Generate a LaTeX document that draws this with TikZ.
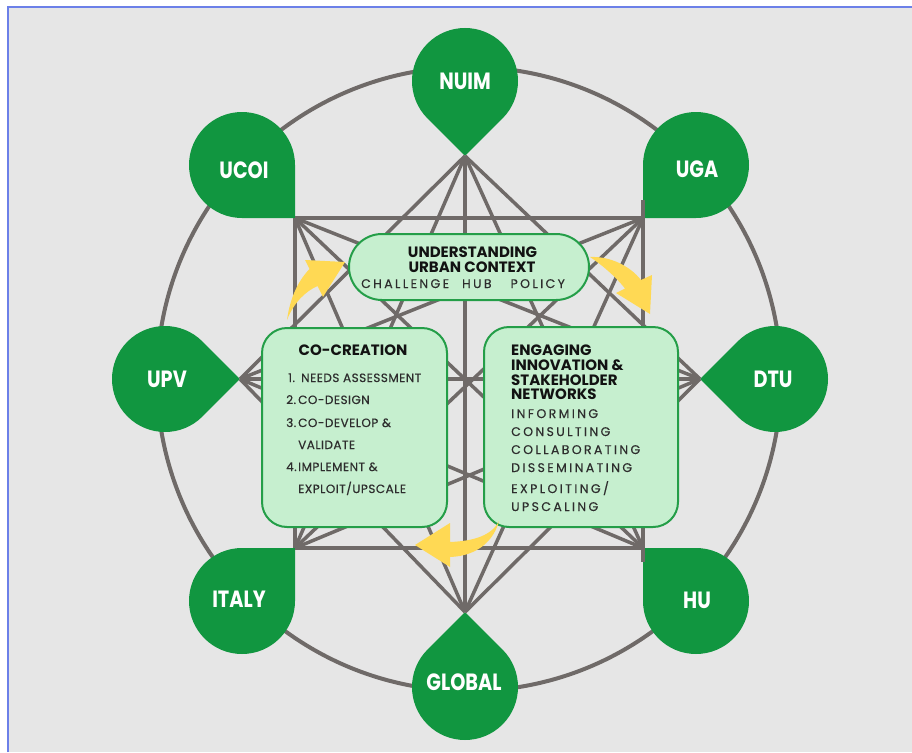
\documentclass[tikz,border=0pt]{standalone}
\usepackage{fontspec}
\setmainfont{Poppins}
\newfontfamily\popspaced[LetterSpace=19,FakeBold=0.3]{Poppins}
\newfontfamily\popitem[LetterSpace=4,FakeBold=0.5]{Poppins}
\usetikzlibrary{calc}
\definecolor{bggrey}{RGB}{230,230,230}
\definecolor{framebl}{RGB}{108,128,232}
\definecolor{lgrey}{RGB}{111,106,104}
\definecolor{dgreen}{RGB}{17,150,64}
\definecolor{boxfill}{RGB}{198,239,207}
\definecolor{boxline}{RGB}{36,158,72}
\definecolor{ayellow}{RGB}{255,217,84}
\definecolor{txtdark}{RGB}{18,18,18}
\definecolor{txtgrey}{RGB}{45,45,45}
\newcommand\mydrop[3]{%
  \fill[dgreen] ($(#1,#2)+(#3+45:53)$) arc[start angle=#3+45, delta angle=270, radius=53] -- ($(#1,#2)+(#3:74.95)$) -- cycle;}
\tikzset{
  net/.style={lgrey, line width=3.5pt},
  dlabel/.style={text=white, inner sep=0pt, font=\fontsize{23.5}{23.5}\selectfont\bfseries},
  greenbox/.style={draw=boxline, fill=boxfill, line width=2pt, inner sep=0pt},
  titletext/.style={text=txtdark, inner sep=0pt, font=\fontsize{15}{15}\selectfont\bfseries},
  itemtext/.style={text=txtgrey, inner sep=0pt, anchor=base west, font=\popitem\fontsize{12}{12}\selectfont},
  spacedtext/.style={text=txtgrey, inner sep=0pt, anchor=base west, font=\popspaced\fontsize{12.5}{12.5}\selectfont},
  arrowfill/.style={fill=ayellow}
}
\begin{document}
\begin{tikzpicture}[x=1pt,y=-1pt]
\useasboundingbox (0,0) rectangle (912,752);
\fill[white] (0,0) rectangle (912,752);
\fill[bggrey] (9,8) rectangle (912,752);
\draw[framebl, line width=2pt] (8,752) -- (8,7) -- (912,7);
% big circle
\draw[lgrey, line width=4pt] (469,379) circle[radius=312];
% drops
\mydrop{465}{81}{90}
\mydrop{465}{687}{-90}
\mydrop{165}{379}{0}
\mydrop{775}{379}{180}
\mydrop{242}{165}{45}
\mydrop{696}{165}{135}
\mydrop{242}{601}{-45}
\mydrop{696}{601}{225}
% network points
\coordinate (N) at (465,156);
\coordinate (S) at (465,612);
\coordinate (W) at (240,379);
\coordinate (E) at (700,379);
\coordinate (TL) at (295,218);
\coordinate (TR) at (643,218);
\coordinate (BL) at (295,548);
\coordinate (BR) at (643,548);
\coordinate (TRx) at (643,200);
\coordinate (BRx) at (643,562);
\foreach \a/\b in {N/W,N/BL,N/S,N/BR,N/E,S/W,S/TL,S/TR,S/E,W/TR,W/E,W/BR,E/TL,E/BL,TL/TR,TL/BR,TL/BL,TR/BL,BL/BR}
  \draw[net] (\a) -- (\b);
\draw[net] (TRx) -- (BRx);
% boxes
\node[greenbox, minimum width=240pt, minimum height=66pt, rounded corners=33pt] (pill) at (469,267) {};
\node[greenbox, minimum width=185pt, minimum height=199pt, rounded corners=25pt] (cocreation) at (354.5,427.5) {};
\node[greenbox, minimum width=194pt, minimum height=200pt, rounded corners=25pt] (engaging) at (581,427) {};
% yellow arrows
\fill[arrowfill] (287,320) .. controls (290,298) and (298,281) .. (309.5,269) -- (305,260) -- (345,262) -- (323,297) -- (317.6,286) .. controls (306,291) and (294,302) .. cycle;
\fill[arrowfill] (590,257) .. controls (610,256) and (630,266) .. (641,280) -- (652,275) -- (650,314) -- (616,293) -- (625,288.5) .. controls (615,276) and (602,265) .. cycle;
\fill[arrowfill] (499,521) .. controls (492,535) and (475,541) .. (450,542) -- (450,523) -- (415,545) -- (450,567) -- (450,557) .. controls (478,556) and (494,540) .. cycle;
% drop labels
\node[dlabel] (nuim) at (465,81) {\scalebox{0.82}[1]{NUIM}};
\node[dlabel] (ucoi) at (244,170) {\scalebox{0.82}[1]{UCOI}};
\node[dlabel] (uga) at (697,169) {\scalebox{0.82}[1]{UGA}};
\node[dlabel] (upv) at (167,379) {\scalebox{0.82}[1]{UPV}};
\node[dlabel] (dtu) at (773,379) {\scalebox{0.82}[1]{DTU}};
\node[dlabel] (italy) at (239,599) {\scalebox{0.82}[1]{ITALY}};
\node[dlabel] (hu) at (697,600) {\scalebox{0.82}[1]{HU}};
\node[dlabel] (global) at (464,682.5) {\scalebox{0.82}[1]{GLOBAL}};
% pill text
\node[titletext, anchor=base] (u1) at (472.5,257) {UNDERSTANDING};
\node[titletext, anchor=base] (u2) at (472,272) {URBAN CONTEXT};
\node[spacedtext] (u3) at (361,288) {CHALLENGE\hspace{13pt}HUB\hspace{19pt}POLICY};
% co-creation text
\node[titletext, anchor=base] (c0) at (353,355) {CO-CREATION};
\node[itemtext] (c1) at (288,382) {\makebox[13pt][l]{1.}NEEDS ASSESSMENT};
\node[itemtext] (c2) at (286,404) {\makebox[12pt][l]{2.}CO-DESIGN};
\node[itemtext] (c3) at (286,427) {\makebox[12pt][l]{3.}CO-DEVELOP \&};
\node[itemtext] (c4) at (298,449) {VALIDATE};
\node[itemtext] (c5) at (286,471) {\makebox[12pt][l]{4.}IMPLEMENT \&};
\node[itemtext] (c6) at (298,493) {EXPLOIT/UPSCALE};
% engaging text
\node[titletext, anchor=base west] (e1) at (511,355) {ENGAGING};
\node[titletext, anchor=base west] (e2) at (511,370) {INNOVATION \&};
\node[titletext, anchor=base west] (e3) at (511,385) {STAKEHOLDER};
\node[titletext, anchor=base west] (e4) at (511,399) {NETWORKS};
\node[spacedtext] (e5) at (511,418) {INFORMING};
\node[spacedtext] (e6) at (511,436) {CONSULTING};
\node[spacedtext] (e7) at (511,454) {COLLABORATING};
\node[spacedtext] (e8) at (511,472) {DISSEMINATING};
\node[spacedtext] (e9) at (511,493) {EXPLOITING/};
\node[spacedtext] (e10) at (511,511) {UPSCALING};
\end{tikzpicture}
\end{document}
